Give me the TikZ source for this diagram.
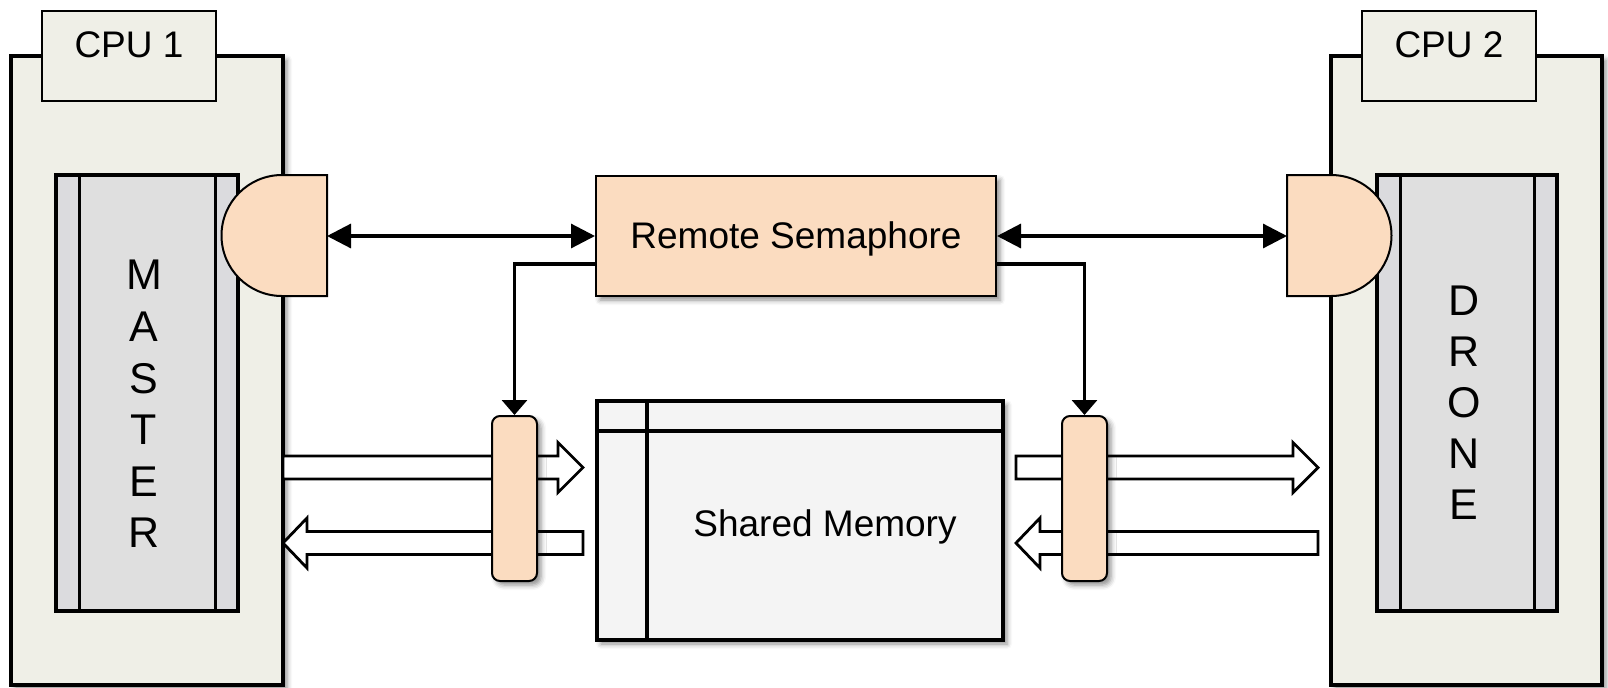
\documentclass[tikz,border=0pt]{standalone}
\usepackage{fontspec}
\setmainfont{Liberation Sans}
\usetikzlibrary{arrows.meta,shadows.blur,calc}

\definecolor{cpubg}{RGB}{239,239,231}
\definecolor{stripgray}{RGB}{219,219,222}
\definecolor{midgray}{RGB}{223,223,223}
\definecolor{peach}{RGB}{251,220,192}
\definecolor{memfill}{RGB}{244,244,244}

% right-pointing hollow arrow: tail x, tip x, centre y
\newcommand\hollowright[3]{%
  \draw[hollow] (#1,#3-11.5) -- (#2-25,#3-11.5) -- (#2-25,#3-25) -- (#2,#3)
    -- (#2-25,#3+25) -- (#2-25,#3+11.5) -- (#1,#3+11.5) -- cycle;}
% left-pointing hollow arrow: tip x, tail x, centre y
\newcommand\hollowleft[3]{%
  \draw[hollow] (#2,#3-11.5) -- (#1+24,#3-11.5) -- (#1+24,#3-25) -- (#1,#3)
    -- (#1+24,#3+25) -- (#1+24,#3+11.5) -- (#2,#3+11.5) -- cycle;}

\tikzset{
  shd/.style={blur shadow={shadow xshift=2pt, shadow yshift=-2pt,
      shadow blur radius=2.5pt, shadow opacity=45}},
  cpubox/.style={draw, line width=2pt, fill=cpubg, inner sep=0pt, shd},
  cpulabel/.style={draw, line width=1.2pt, fill=cpubg, inner sep=0pt},
  corebox/.style={draw, line width=1.8pt, fill=stripgray, inner sep=0pt, outer sep=0pt,
    path picture={
      \fill[midgray] ([xshift=11.5pt]path picture bounding box.south west)
        rectangle ([xshift=-11.5pt]path picture bounding box.north east);
      \draw[line width=1.5pt]
        ([xshift=11.5pt]path picture bounding box.south west) --
        ([xshift=11.5pt]path picture bounding box.north west)
        ([xshift=-11.5pt]path picture bounding box.south east) --
        ([xshift=-11.5pt]path picture bounding box.north east);}},
  gateshape/.style={draw, line width=1pt, fill=peach},
  semabox/.style={draw, line width=1pt, fill=peach, inner sep=0pt, shd},
  sgate/.style={draw, line width=1pt, fill=peach, rounded corners=4pt, inner sep=0pt, shd},
  membox/.style={draw, line width=1.8pt, fill=memfill, inner sep=0pt, shd,
    path picture={
      \draw[line width=1.8pt]
        ([yshift=-15pt]path picture bounding box.north west) --
        ([yshift=-15pt]path picture bounding box.north east)
        ([xshift=25pt]path picture bounding box.north west) --
        ([xshift=25pt]path picture bounding box.south west);}},
  hollow/.style={draw, line width=1.4pt, fill=white},
  conn/.style={line width=1.6pt},
  bihead/.style={{Triangle[length=12pt,width=12pt]}-{Triangle[length=12pt,width=12pt]}},
  downhead/.style={-{Triangle[length=7.5pt,width=12.5pt]}},
  letter/.style={inner sep=0pt, font=\fontsize{21.5pt}{24pt}\selectfont}
}

\begin{document}
\begin{tikzpicture}[x=0.5pt, y=-0.5pt, font=\fontsize{18.5pt}{22pt}\selectfont]
\useasboundingbox (0,0) rectangle (1608,687);

% processors
\node[cpubox, minimum width=136pt, minimum height=314.5pt] (cpu1) at (147,370.5) {};
\node[cpubox, minimum width=135.5pt, minimum height=314.5pt] (cpu2) at (1466.5,370.5) {};
\node[cpulabel, minimum width=87pt, minimum height=45pt] (lab1) at (129,56) {};
\node[cpulabel, minimum width=87pt, minimum height=45pt] (lab2) at (1449,56) {};
\node (lab1t) at (129,45) {CPU 1};
\node (lab2t) at (1449,45) {CPU 2};

% cores
\node[corebox, minimum width=91pt, minimum height=218pt] (master) at (147,393) {};
\node[corebox, minimum width=90pt, minimum height=218pt] (drone) at (1467,393) {};
\foreach \ch [count=\i] in {M,A,S,T,E,R}
  \node[letter] (ms\i) at (144,{275+51.6*(\i-1)}) {\ch};
\foreach \ch [count=\i] in {D,R,O,N,E}
  \node[letter] (dr\i) at (1464,{300.5+51*(\i-1)}) {\ch};

% semaphore gates on the cores
\draw[gateshape] (327,175) -- (282,175) arc[start angle=90, end angle=270, radius=30.25pt]
  -- (327,296) -- cycle;
\draw[gateshape] (1287,175) -- (1331,175) arc[start angle=90, end angle=-90, radius=30.25pt]
  -- (1287,296) -- cycle;
\coordinate (g1) at (327,236);
\coordinate (g2) at (1287,236);

% data paths to and from the shared memory
\hollowright{283}{583}{467.5}
\hollowleft{283}{583}{543}
\hollowright{1016}{1318}{467.5}
\hollowleft{1016}{1318}{543}

% access gates on the data paths
\node[sgate, minimum width=22.5pt, minimum height=82.5pt] (sg1) at (514.5,498.5) {};
\node[sgate, minimum width=22.5pt, minimum height=82.5pt] (sg2) at (1084.5,498.5) {};

% remote semaphore and shared memory
\node[semabox, minimum width=200pt, minimum height=60pt] (sem) at (796,236) {};
\node (semt) at (796,239) {Remote Semaphore};
\node[membox, minimum width=203pt, minimum height=119.5pt] (mem) at (800,520.5) {};
\node (memt) at (825,527) {Shared Memory};

% control connections
\draw[conn, bihead] (g1) -- (sem.west);
\draw[conn, bihead] (sem.east) -- (g2);
\draw[conn, downhead] ([yshift=-14pt]sem.west) -| (sg1.north);
\draw[conn, downhead] ([yshift=-14pt]sem.east) -| (sg2.north);
\end{tikzpicture}
\end{document}
